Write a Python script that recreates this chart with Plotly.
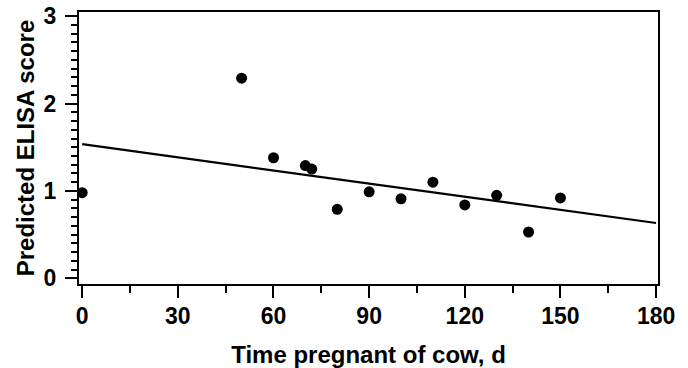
import plotly.graph_objects as go

days = [0, 50, 60, 70, 72, 80, 90, 100, 110, 120, 130, 140, 150]
elisa = [0.98, 2.29, 1.38, 1.29, 1.25, 0.79, 0.99, 0.91, 1.10, 0.84, 0.95, 0.53, 0.92]
fit_x = [0, 180]
fit_y = [1.535, 0.633]
x_ticks = [0, 30, 60, 90, 120, 150, 180]
y_ticks = [0, 1, 2, 3]

font_family = "Liberation Sans, Arial, sans-serif"

fig = go.Figure()
fig.add_trace(go.Scatter(x=fit_x, y=fit_y, mode="lines",
                         line=dict(color="black", width=2.2), showlegend=False))
fig.add_trace(go.Scatter(x=days, y=elisa, mode="markers",
                         marker=dict(color="black", size=11), showlegend=False))

fig.update_layout(
    width=688, height=368,
    margin=dict(l=79, r=30, t=12, b=84, autoexpand=False),
    paper_bgcolor="white", plot_bgcolor="white",
    font=dict(family=font_family, color="black", size=23, weight="bold"),
)
fig.update_xaxes(
    range=[-1.0, 180.6], tickvals=x_ticks, ticktext=[str(v) for v in x_ticks],
    showgrid=False, zeroline=False, automargin=False,
    showline=True, linecolor="black", linewidth=2, mirror=True,
    ticks="outside", ticklen=12, tickwidth=2, tickcolor="black",
    minor=dict(dtick=15, tick0=0, ticks="outside", ticklen=7, tickwidth=2, tickcolor="black"),
    tickfont=dict(size=23, family=font_family, weight="bold"),
    ticklabelstandoff=-2,
    title=dict(text="Time pregnant of cow, d", font=dict(size=24, family=font_family, weight="bold"), standoff=19),
)
fig.update_yaxes(
    range=[-0.065, 3.048], tickvals=y_ticks, ticktext=[str(v) for v in y_ticks],
    showgrid=False, zeroline=False, automargin=False,
    showline=True, linecolor="black", linewidth=2, mirror=True,
    ticks="outside", ticklen=12, tickwidth=2, tickcolor="black",
    minor=dict(dtick=0.1, tick0=0, ticks="outside", ticklen=6, tickwidth=2, tickcolor="black"),
    tickfont=dict(size=23, family=font_family, weight="bold"),
    ticklabelstandoff=4,
    title=dict(text="Predicted ELISA score", font=dict(size=24, family=font_family, weight="bold"), standoff=2),
)

fig.write_html("out.html")
